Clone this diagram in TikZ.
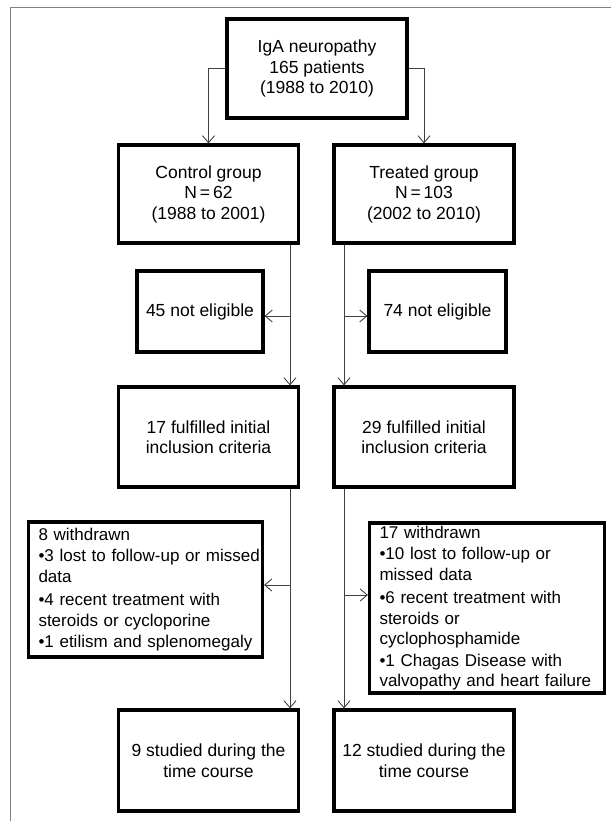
\documentclass[tikz,border=0pt]{standalone}
\usepackage{fontspec}
\setmainfont{Liberation Sans}
\usepackage{tikz}
\usetikzlibrary{arrows.meta}
\usetikzlibrary{positioning}

\begin{document}
\begin{tikzpicture}[x=1pt,y=-1pt,>={Straight Barb[length=7pt,width=12pt]},on grid,
	box/.style={draw=black, line width=3.2pt, minimum width=180pt, minimum height=99pt,
		align=center, inner sep=2pt, font=\fontsize{17.5}{20.5}\selectfont},
	listbox/.style={box, align=left, inner xsep=10pt, font=\fontsize{17}{20.5}\selectfont},
	conn/.style={->, line width=0.9pt, black!75}]
	\useasboundingbox (0,0) rectangle (611,821);
	\draw[gray, line width=1pt] (10.5,821) -- (10.5,8) -- (611,8);

	\node[box] (top) at (317,68.5) {IgA neuropathy\\165 patients\\(1988 to 2010)};
	\node[box, minimum height=98pt] (ctrl) [below left=125.5pt and 108.5pt of top] {Control group\\N\,=\,62\\(1988 to 2001)};
	\node[box, minimum height=98pt] (trt) [below right=125.5pt and 107pt of top] {Treated group\\N\,=\,103\\(2002 to 2010)};
	\node[box, minimum width=126pt, minimum height=81pt] (ne1) [below left=117.5pt and 8.5pt of ctrl] {45 not eligible};
	\node[box, minimum width=137pt, minimum height=81pt] (ne2) [below right=117.5pt and 13.5pt of trt] {74 not eligible};
	\node[box, minimum height=100pt] (ful1) [below=243pt of ctrl] {17 fulfilled initial\\inclusion criteria};
	\node[box, minimum height=100pt] (ful2) [below=243pt of trt] {29 fulfilled initial\\inclusion criteria};
	\node[listbox, text width=214pt, minimum height=135pt] (wd1) [below left=152.5pt and 63pt of ful1]
		{8 withdrawn\\[1pt]\mbox{\textbullet3 lost to follow-up or missed}\\data\\[3pt]\textbullet4 recent treatment with\\steroids or cycloporine\\[1pt]\textbullet1 etilism and splenomegaly};
	\node[listbox, text width=215pt, minimum height=170pt] (wd2) [below right=171pt and 63pt of ful2]
		{17 withdrawn\\[1pt]\textbullet10 lost to follow-up or\\missed data\\[3pt]\textbullet6 recent treatment with\\steroids or\\cyclophosphamide\\[1pt]\textbullet1 Chagas Disease with\\\mbox{valvopathy and heart failure}};
	\node[box, minimum height=101pt] (st1) [below=323.5pt of ful1] {9 studied during the\\time course};
	\node[box, minimum height=101pt] (st2) [below=323.5pt of ful2] {12 studied during the\\time course};

	% trunks and side branches
	\coordinate (lx) at (290,0);
	\coordinate (rx) at (344,0);
	\coordinate (lb1) at (290,316);
	\coordinate (rb1) at (344,316);
	\coordinate (lb2) at (290,585);
	\coordinate (rb2) at (344,595);

	\draw[conn] (top.west) -| (ctrl.north);
	\draw[conn] (top.east) -| (trt.north);
	\draw[conn] (ctrl.south -| lx) -- (ful1.north -| lx);
	\draw[conn] (trt.south -| rx) -- (ful2.north -| rx);
	\draw[conn] (lb1) -- (lb1 -| ne1.east);
	\draw[conn] (rb1) -- (rb1 -| ne2.west);
	\draw[conn] (ful1.south -| lx) -- (st1.north -| lx);
	\draw[conn] (ful2.south -| rx) -- (st2.north -| rx);
	\draw[conn] (lb2) -- (lb2 -| wd1.east);
	\draw[conn] (rb2) -- (rb2 -| wd2.west);
\end{tikzpicture}
\end{document}
